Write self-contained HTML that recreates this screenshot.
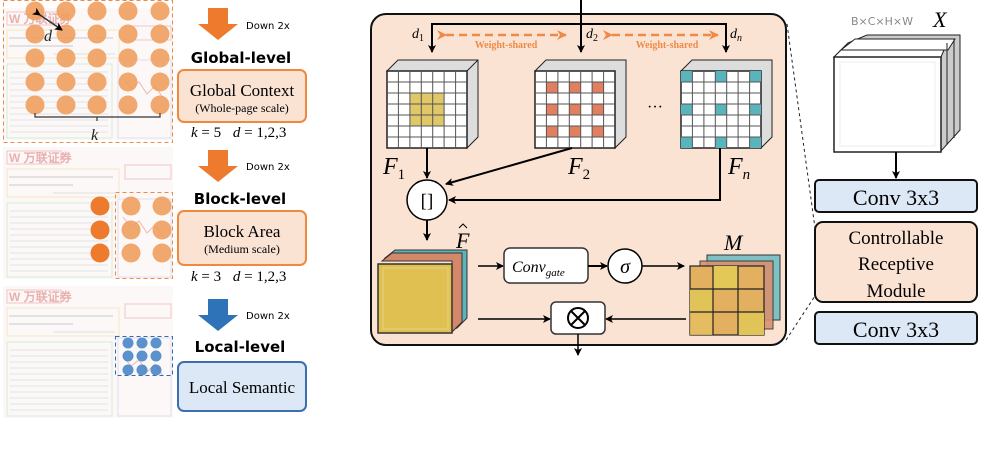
<!DOCTYPE html>
<html><head><meta charset="utf-8"><style>
html,body{margin:0;padding:0;background:#fff;}
svg{display:block;}
.s{font-family:"Liberation Serif",serif;}
.a{font-family:"DejaVu Sans","Liberation Sans",sans-serif;}
</style></head><body>
<svg width="1001" height="464" viewBox="0 0 1001 464" xmlns="http://www.w3.org/2000/svg">
<defs>
<marker id="ah" markerWidth="8" markerHeight="8" refX="7" refY="4" orient="auto" markerUnits="userSpaceOnUse"><path d="M0,0 L8,4 L0,8 L2,4 z" fill="#000"/></marker>
<marker id="oh" markerWidth="10" markerHeight="10" refX="9" refY="5" orient="auto" markerUnits="userSpaceOnUse"><path d="M0,0 L10,5 L0,10 L3,5 z" fill="#ee8a48"/></marker>
<g id="doc">
<rect x="0" y="0" width="170" height="132" fill="#fbf8f7"/>
<rect x="4" y="4" width="54" height="13" fill="none" stroke="#f2c6c6"/>
<text x="6" y="15" font-size="12" font-weight="bold" fill="#eab0b0" font-family="Liberation Sans,sans-serif">W 万联证券</text>
<rect x="4" y="22" width="112" height="28" fill="none" stroke="#f5e6c0"/>
<line x1="6" y1="30" x2="110" y2="30" stroke="#e2e2e2" stroke-width="2"/>
<line x1="6" y1="38" x2="70" y2="38" stroke="#e2e2e2" stroke-width="2"/>
<line x1="50" y1="46" x2="112" y2="46" stroke="#e8e8e8" stroke-width="1.5"/>
<rect x="122" y="18" width="46" height="14" fill="none" stroke="#f2c6c6"/>
<rect x="4" y="56" width="105" height="74" fill="none" stroke="#d6ecd6"/>
<g stroke="#ebebeb" stroke-width="1.5">
<line x1="7" y1="64" x2="105" y2="64"/><line x1="7" y1="70" x2="105" y2="70"/><line x1="7" y1="76" x2="105" y2="76"/><line x1="7" y1="82" x2="105" y2="82"/><line x1="7" y1="88" x2="105" y2="88"/><line x1="7" y1="94" x2="105" y2="94"/><line x1="7" y1="100" x2="105" y2="100"/><line x1="7" y1="106" x2="105" y2="106"/><line x1="7" y1="112" x2="105" y2="112"/><line x1="7" y1="118" x2="105" y2="118"/><line x1="7" y1="124" x2="105" y2="124"/>
</g>
<rect x="115" y="52" width="53" height="78" fill="none" stroke="#e6dbee"/>
<polyline points="120,70 128,80 136,74 144,86 152,78 160,90" fill="none" stroke="#eeb8b0"/>
</g>
</defs>

<use href="#doc" x="3" y="8"/>
<use href="#doc" x="3" y="147"/>
<use href="#doc" x="3" y="286"/>
<rect x="3.5" y="0.5" width="169" height="142" fill="none" stroke="#ee8a48" stroke-dasharray="4,3"/>
<g fill="#f0a060" opacity="0.9">
<circle cx="35" cy="11" r="9.5"/><circle cx="66" cy="11" r="9.5"/><circle cx="97" cy="11" r="9.5"/><circle cx="128" cy="11" r="9.5"/><circle cx="160" cy="11" r="9.5"/>
<circle cx="35" cy="34" r="9.5"/><circle cx="66" cy="34" r="9.5"/><circle cx="97" cy="34" r="9.5"/><circle cx="128" cy="34" r="9.5"/><circle cx="160" cy="34" r="9.5"/>
<circle cx="35" cy="58" r="9.5"/><circle cx="66" cy="58" r="9.5"/><circle cx="97" cy="58" r="9.5"/><circle cx="128" cy="58" r="9.5"/><circle cx="160" cy="58" r="9.5"/>
<circle cx="35" cy="82" r="9.5"/><circle cx="66" cy="82" r="9.5"/><circle cx="97" cy="82" r="9.5"/><circle cx="128" cy="82" r="9.5"/><circle cx="160" cy="82" r="9.5"/>
<circle cx="35" cy="105" r="9.5"/><circle cx="66" cy="105" r="9.5"/><circle cx="97" cy="105" r="9.5"/><circle cx="128" cy="105" r="9.5"/><circle cx="160" cy="105" r="9.5"/>
</g>
<line x1="40" y1="15" x2="62" y2="30" stroke="#333" stroke-width="1.5" marker-start="url(#ah)" marker-end="url(#ah)"/>
<text x="44" y="41" class="s" font-size="16" font-style="italic" fill="#222">d</text>
<path d="M35,113 v4 h62 v4 M97,117 h63 v-4" fill="none" stroke="#333" stroke-width="1.2"/>
<text x="91" y="140" class="s" font-size="16" font-style="italic" fill="#222">k</text>

<g fill="#ee7a2e"><circle cx="100" cy="206" r="9.5"/><circle cx="100" cy="230" r="9.5"/><circle cx="100" cy="253" r="9.5"/></g>
<rect x="115.5" y="192.5" width="57" height="86" fill="none" stroke="#ee8a48" stroke-dasharray="4,3"/>
<g fill="#f0a060" opacity="0.9"><circle cx="131" cy="206" r="9.5"/><circle cx="162" cy="206" r="9.5"/><circle cx="131" cy="230" r="9.5"/><circle cx="162" cy="230" r="9.5"/><circle cx="131" cy="253" r="9.5"/><circle cx="162" cy="253" r="9.5"/></g>

<rect x="115.5" y="336.5" width="57" height="39" fill="none" stroke="#2e6db0" stroke-dasharray="4,3"/>
<g fill="#4a86c8" opacity="0.9">
<circle cx="128" cy="343" r="5.5"/><circle cx="142" cy="343" r="5.5"/><circle cx="156" cy="343" r="5.5"/>
<circle cx="128" cy="356" r="5.5"/><circle cx="142" cy="356" r="5.5"/><circle cx="156" cy="356" r="5.5"/>
<circle cx="128" cy="370" r="5.5"/><circle cx="142" cy="370" r="5.5"/><circle cx="156" cy="370" r="5.5"/>
</g>

<path d="M208,8 h20 v16 h10 l-20,16 l-20,-16 h10 z" fill="#ee7a2e"/>
<text x="246" y="29" class="a" font-size="10" fill="#000">Down 2x</text>
<text x="241" y="63" class="a" font-size="15" font-weight="bold" text-anchor="middle">Global-level</text>
<rect x="178" y="70" width="128" height="52" rx="6" fill="#fbe3d4" stroke="#f0883e" stroke-width="2"/>
<text x="242" y="96" class="s" font-size="17" text-anchor="middle">Global Context</text>
<text x="242" y="112" class="s" font-size="12" text-anchor="middle">(Whole-page scale)</text>
<text x="191" y="137" class="s" font-size="15"><tspan font-style="italic">k</tspan> = 5 <tspan dx="8" font-style="italic">d</tspan> = 1,2,3</text>

<path d="M208,150 h20 v16 h10 l-20,16 l-20,-16 h10 z" fill="#ee7a2e"/>
<text x="246" y="170" class="a" font-size="10">Down 2x</text>
<text x="240" y="204" class="a" font-size="15" font-weight="bold" text-anchor="middle">Block-level</text>
<rect x="178" y="211" width="128" height="54" rx="6" fill="#fbe3d4" stroke="#f0883e" stroke-width="2"/>
<text x="242" y="237" class="s" font-size="17" text-anchor="middle">Block Area</text>
<text x="242" y="253" class="s" font-size="12" text-anchor="middle">(Medium scale)</text>
<text x="191" y="281" class="s" font-size="15"><tspan font-style="italic">k</tspan> = 3 <tspan dx="8" font-style="italic">d</tspan> = 1,2,3</text>

<path d="M208,299 h20 v16 h10 l-20,16 l-20,-16 h10 z" fill="#2e72b8"/>
<text x="246" y="319" class="a" font-size="10">Down 2x</text>
<text x="240" y="352" class="a" font-size="15" font-weight="bold" text-anchor="middle">Local-level</text>
<rect x="178" y="362" width="128" height="49" rx="6" fill="#dce8f5" stroke="#3b6fb0" stroke-width="2"/>
<text x="242" y="393" class="s" font-size="17" text-anchor="middle">Local Semantic</text>

<rect x="371" y="14" width="415" height="331" rx="15" fill="#fbe3d4" stroke="#111" stroke-width="2"/>
<line x1="581" y1="0" x2="581" y2="52" stroke="#000" stroke-width="2" marker-end="url(#ah)"/>
<polyline points="432,52 432,24 726,24 726,52" fill="none" stroke="#000" stroke-width="2"/>
<line x1="432" y1="40" x2="432" y2="52" stroke="#000" stroke-width="2" marker-end="url(#ah)"/>
<line x1="726" y1="40" x2="726" y2="52" stroke="#000" stroke-width="2" marker-end="url(#ah)"/>
<text x="412" y="38" class="s" font-size="14" font-style="italic">d<tspan font-size="10" dy="3" font-style="normal">1</tspan></text>
<text x="586" y="38" class="s" font-size="14" font-style="italic">d<tspan font-size="10" dy="3" font-style="normal">2</tspan></text>
<text x="730" y="38" class="s" font-size="14" font-style="italic">d<tspan font-size="10" dy="3">n</tspan></text>
<line x1="446" y1="35" x2="566" y2="35" stroke="#ee8a48" stroke-width="2.5" stroke-dasharray="8,5" marker-start="url(#oh)" marker-end="url(#oh)"/>
<line x1="612" y1="35" x2="718" y2="35" stroke="#ee8a48" stroke-width="2.5" stroke-dasharray="8,5" marker-start="url(#oh)" marker-end="url(#oh)"/>
<text x="506" y="48" class="s" font-size="10" font-weight="bold" fill="#ee8a48" text-anchor="middle">Weight-shared</text>
<text x="667" y="48" class="s" font-size="10" font-weight="bold" fill="#ee8a48" text-anchor="middle">Weight-shared</text>

<polygon points="387,71 398,60 478,60 478,137 467,148 467,71" fill="#ddd" stroke="#222"/>
<line x1="467" y1="71" x2="478" y2="60" stroke="#222"/>
<rect x="387" y="71" width="80" height="77" fill="#fff" stroke="#222" stroke-width="1.5"/>
<rect x="409.9" y="93" width="34.3" height="33" fill="#e0c868"/>
<path d="M398.4,71v77M409.9,71v77M421.3,71v77M432.7,71v77M444.1,71v77M455.6,71v77M387,82h80M387,93h80M387,104h80M387,115h80M387,126h80M387,137h80" stroke="#555"/>

<polygon points="535,71 546,60 626,60 626,137 615,148 615,71" fill="#ddd" stroke="#222"/>
<rect x="535" y="71" width="80" height="77" fill="#fff" stroke="#222" stroke-width="1.5"/>
<g fill="#e08060">
<rect x="546.4" y="82" width="11.4" height="11"/><rect x="569.3" y="82" width="11.4" height="11"/><rect x="592.1" y="82" width="11.4" height="11"/>
<rect x="546.4" y="104" width="11.4" height="11"/><rect x="569.3" y="104" width="11.4" height="11"/><rect x="592.1" y="104" width="11.4" height="11"/>
<rect x="546.4" y="126" width="11.4" height="11"/><rect x="569.3" y="126" width="11.4" height="11"/><rect x="592.1" y="126" width="11.4" height="11"/>
</g>
<path d="M546.4,71v77M557.9,71v77M569.3,71v77M580.7,71v77M592.1,71v77M603.6,71v77M535,82h80M535,93h80M535,104h80M535,115h80M535,126h80M535,137h80" stroke="#555"/>

<polygon points="681,71 692,60 772,60 772,137 761,148 761,71" fill="#ddd" stroke="#222"/>
<rect x="681" y="71" width="80" height="77" fill="#fff" stroke="#222" stroke-width="1.5"/>
<g fill="#5ab4bc">
<rect x="681" y="71" width="11.4" height="11"/><rect x="715.3" y="71" width="11.4" height="11"/><rect x="749.6" y="71" width="11.4" height="11"/>
<rect x="681" y="104" width="11.4" height="11"/><rect x="715.3" y="104" width="11.4" height="11"/><rect x="749.6" y="104" width="11.4" height="11"/>
<rect x="681" y="137" width="11.4" height="11"/><rect x="715.3" y="137" width="11.4" height="11"/><rect x="749.6" y="137" width="11.4" height="11"/>
</g>
<path d="M692.4,71v77M703.9,71v77M715.3,71v77M726.7,71v77M738.1,71v77M749.6,71v77M681,82h80M681,93h80M681,104h80M681,115h80M681,126h80M681,137h80" stroke="#555"/>
<text x="655" y="112" class="s" font-size="16" text-anchor="middle">···</text>

<text x="383" y="174" class="s" font-size="24" font-style="italic">F<tspan font-size="15" dy="5" font-style="normal">1</tspan></text>
<text x="568" y="174" class="s" font-size="24" font-style="italic">F<tspan font-size="15" dy="5" font-style="normal">2</tspan></text>
<text x="728" y="174" class="s" font-size="24" font-style="italic">F<tspan font-size="15" dy="5">n</tspan></text>

<line x1="427" y1="148" x2="427" y2="178" stroke="#000" stroke-width="2" marker-end="url(#ah)"/>
<line x1="572" y1="148" x2="446" y2="184" stroke="#000" stroke-width="2" marker-end="url(#ah)"/>
<polyline points="720,148 720,200 449,200" fill="none" stroke="#000" stroke-width="2" marker-end="url(#ah)"/>
<circle cx="427" cy="200" r="20" fill="#fff" stroke="#000" stroke-width="1.5"/>
<text x="427" y="207" class="s" font-size="19" text-anchor="middle">[]</text>
<line x1="427" y1="220" x2="427" y2="240" stroke="#000" stroke-width="2" marker-end="url(#ah)"/>
<text x="456" y="248" class="s" font-size="22" font-style="italic">F</text>
<path d="M459,228 L463,224 L467,228" fill="none" stroke="#000" stroke-width="1"/>

<polygon points="385,258 395,250 467,250 467,318 457,328 457,258" fill="#5ab4bc" stroke="#333"/>
<polygon points="382,261 392,253 462,253 462,322 452,332 452,261" fill="#d4886a" stroke="#333"/>
<rect x="378" y="264" width="74" height="69" fill="#dfc050" stroke="#333" stroke-width="1.5"/>
<rect x="383" y="268" width="65" height="61" fill="none" stroke="#e8d088"/>

<line x1="478" y1="266" x2="503" y2="266" stroke="#000" stroke-width="1.5" marker-end="url(#ah)"/>
<rect x="504" y="248" width="84" height="35" rx="6" fill="#fff" stroke="#333" stroke-width="1.5"/>
<text x="512" y="272" class="s" font-size="16" font-style="italic">Conv<tspan font-size="11" dy="4">gate</tspan></text>
<line x1="588" y1="266" x2="607" y2="266" stroke="#000" stroke-width="2" marker-end="url(#ah)"/>
<circle cx="625" cy="266" r="17" fill="#fff" stroke="#000" stroke-width="1.5"/>
<text x="625" y="273" class="s" font-size="20" font-style="italic" text-anchor="middle">σ</text>
<line x1="642" y1="266" x2="684" y2="266" stroke="#000" stroke-width="1.5" marker-end="url(#ah)"/>
<text x="724" y="250" class="s" font-size="22" font-style="italic">M</text>

<rect x="707" y="255" width="73" height="65" fill="#7fc0c4" stroke="#333"/>
<rect x="700" y="261" width="73" height="68" fill="#d99070" stroke="#333" opacity="0.9"/>
<rect x="690" y="266" width="74" height="69" fill="#e3b060" stroke="#222" stroke-width="1.2"/>
<rect x="713" y="266" width="25" height="23" fill="#e3c858"/>
<rect x="690" y="289" width="23" height="23" fill="#e0c458"/>
<rect x="738" y="312" width="26" height="23" fill="#e0c458"/>
<rect x="690" y="312" width="23" height="23" fill="#e5c060" opacity="0.8"/>
<path d="M713,266v69M738,266v69M690,289h74M690,312h74" stroke="#222" stroke-width="1.2"/>

<line x1="478" y1="319" x2="550" y2="319" stroke="#000" stroke-width="1.5" marker-end="url(#ah)"/>
<line x1="686" y1="319" x2="606" y2="319" stroke="#000" stroke-width="1.5" marker-end="url(#ah)"/>
<rect x="551" y="302" width="54" height="32" rx="5" fill="#fff" stroke="#333" stroke-width="1.5"/>
<circle cx="578" cy="318" r="10" fill="none" stroke="#000" stroke-width="2"/>
<path d="M571,311 L585,325 M585,311 L571,325" stroke="#000" stroke-width="2"/>
<line x1="578" y1="334" x2="578" y2="355" stroke="#000" stroke-width="1.5" marker-end="url(#ah)"/>

<line x1="787" y1="24" x2="815" y2="228" stroke="#222" stroke-dasharray="3,3"/>
<line x1="786" y1="340" x2="815" y2="296" stroke="#222" stroke-dasharray="3,3"/>
<text x="882" y="25" class="a" font-size="11" fill="#888" text-anchor="middle">B×C×H×W</text>
<text x="933" y="27" class="s" font-size="22" font-style="italic">X</text>
<polygon points="848,43 867,35 960,35 960,130 941,151 941,57 834,57" fill="#ccc" stroke="#222"/>
<polygon points="834,57 848,43 947,43 941,57" fill="#fff" stroke="#222"/>
<polygon points="841,50 855,39 955,39 948,50" fill="#fff" stroke="#222"/>
<line x1="947" y1="43" x2="947" y2="145" stroke="#222"/>
<line x1="954" y1="39" x2="954" y2="138" stroke="#222"/>
<rect x="834" y="57" width="107" height="95" fill="#fff" stroke="#222" stroke-width="1.5"/>
<rect x="840" y="62" width="95" height="84" fill="none" stroke="#eee"/>
<line x1="896" y1="152" x2="896" y2="178" stroke="#000" stroke-width="2" marker-end="url(#ah)"/>
<rect x="815" y="180" width="162" height="32" rx="4" fill="#dce8f5" stroke="#111" stroke-width="2"/>
<text x="896" y="205" class="s" font-size="22" text-anchor="middle">Conv 3x3</text>
<rect x="815" y="222" width="162" height="80" rx="8" fill="#fbe3d4" stroke="#111" stroke-width="2"/>
<text x="896" y="244" class="s" font-size="19" text-anchor="middle">Controllable</text>
<text x="896" y="270" class="s" font-size="19" text-anchor="middle">Receptive</text>
<text x="896" y="297" class="s" font-size="19" text-anchor="middle">Module</text>
<rect x="815" y="312" width="162" height="32" rx="4" fill="#dce8f5" stroke="#111" stroke-width="2"/>
<text x="896" y="337" class="s" font-size="22" text-anchor="middle">Conv 3x3</text>
</svg>
</body></html>
